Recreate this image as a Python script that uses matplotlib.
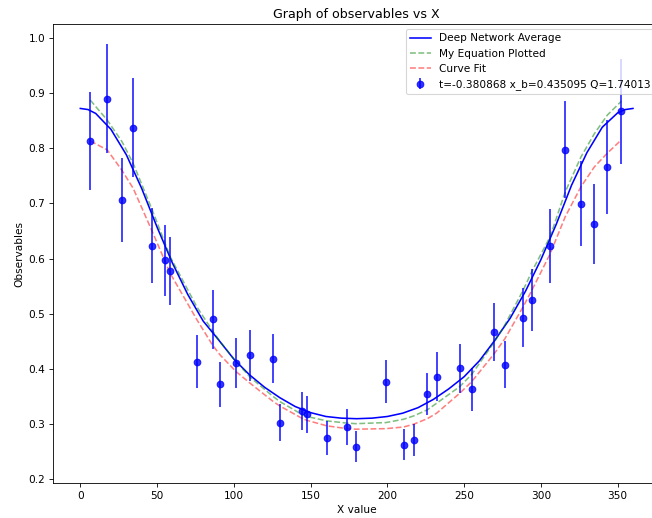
import numpy as np
import matplotlib.pyplot as plt

# measured observables with error bars
x_data = [6.5, 17.5, 27.1, 34.5, 46.4, 54.9, 58.6, 76.0, 86.2, 91.2, 101.6, 110.7,
          125.7, 130.0, 144.2, 147.6, 160.7, 173.7, 179.5, 199.1, 210.6, 217.1,
          226.0, 232.1, 247.1, 254.9, 269.7, 276.6, 288.5, 294.2, 306.1, 315.9,
          326.1, 334.8, 343.3, 352.4]
y_data = [0.813, 0.890, 0.706, 0.837, 0.623, 0.597, 0.578, 0.413, 0.490, 0.372, 0.411, 0.425,
          0.419, 0.303, 0.324, 0.318, 0.275, 0.295, 0.259, 0.377, 0.263, 0.271,
          0.354, 0.386, 0.401, 0.363, 0.467, 0.408, 0.493, 0.525, 0.623, 0.797,
          0.699, 0.663, 0.766, 0.867]
y_err = [0.088, 0.098, 0.076, 0.090, 0.068, 0.064, 0.062, 0.048, 0.053, 0.040, 0.045, 0.046,
         0.045, 0.034, 0.035, 0.034, 0.030, 0.032, 0.028, 0.039, 0.028, 0.029,
         0.038, 0.044, 0.044, 0.039, 0.052, 0.043, 0.054, 0.057, 0.067, 0.088,
         0.077, 0.073, 0.085, 0.095]

# deep network average curve
x_net = [0, 5, 10, 20, 30, 40, 50, 60, 70, 80, 90, 100, 110, 120, 130, 140, 150, 160, 170, 180,
         190, 200, 210, 220, 230, 240, 250, 260, 270, 280, 290, 300, 310, 320, 330, 340, 350, 355, 360]
y_net = [0.872, 0.870, 0.863, 0.834, 0.788, 0.727, 0.657, 0.592, 0.535, 0.487, 0.453, 0.418, 0.390,
         0.367, 0.348, 0.332, 0.321, 0.314, 0.311, 0.310,
         0.311, 0.314, 0.320, 0.330, 0.345, 0.364, 0.386, 0.415, 0.452, 0.492, 0.541, 0.598,
         0.662, 0.733, 0.792, 0.838, 0.864, 0.870, 0.872]

# my equation and the curve fit, evaluated at the data x values
y_eq = [0.887, 0.851, 0.812, 0.772, 0.691, 0.630, 0.603, 0.512, 0.469, 0.449, 0.413, 0.385,
        0.350, 0.341, 0.318, 0.314, 0.306, 0.302, 0.301, 0.303, 0.309, 0.315,
        0.326, 0.338, 0.368, 0.390, 0.449, 0.480, 0.543, 0.577, 0.640, 0.721,
        0.784, 0.826, 0.860, 0.885]
y_fit = [0.813, 0.797, 0.760, 0.727, 0.652, 0.597, 0.573, 0.489, 0.443, 0.425, 0.395, 0.374,
         0.341, 0.333, 0.311, 0.307, 0.297, 0.292, 0.291, 0.292, 0.295, 0.300,
         0.310, 0.320, 0.356, 0.377, 0.428, 0.455, 0.513, 0.543, 0.609, 0.676,
         0.730, 0.766, 0.791, 0.815]

label_data = 't=-0.380868 x_b=0.435095 Q=1.74013'

fig = plt.figure(figsize=(652 / 76, 518 / 76), dpi=76)
# axes run a little past the right edge, like the original screenshot
ax = fig.add_axes([0.0808, 0.067, 0.9324, 0.8867])

ax.plot(x_net, y_net, 'b-', label='Deep Network Average')
ax.plot(x_data, y_eq, 'g--', alpha=0.5, label='My Equation Plotted')
ax.plot(x_data, y_fit, 'r--', alpha=0.5, label='Curve Fit')
ax.errorbar(x_data, y_data, yerr=y_err, fmt='o', color='blue', alpha=0.8,
            elinewidth=1.7, markersize=6.3, label=label_data)

ax.set_xlim(-18, 378)
ax.set_ylim(0.193, 1.025)
ax.set_title('Graph of observables vs X')
ax.set_xlabel('X value')
ax.set_ylabel('Observables')
ax.legend(loc='upper right')

fig.savefig('out.png', dpi=76)
